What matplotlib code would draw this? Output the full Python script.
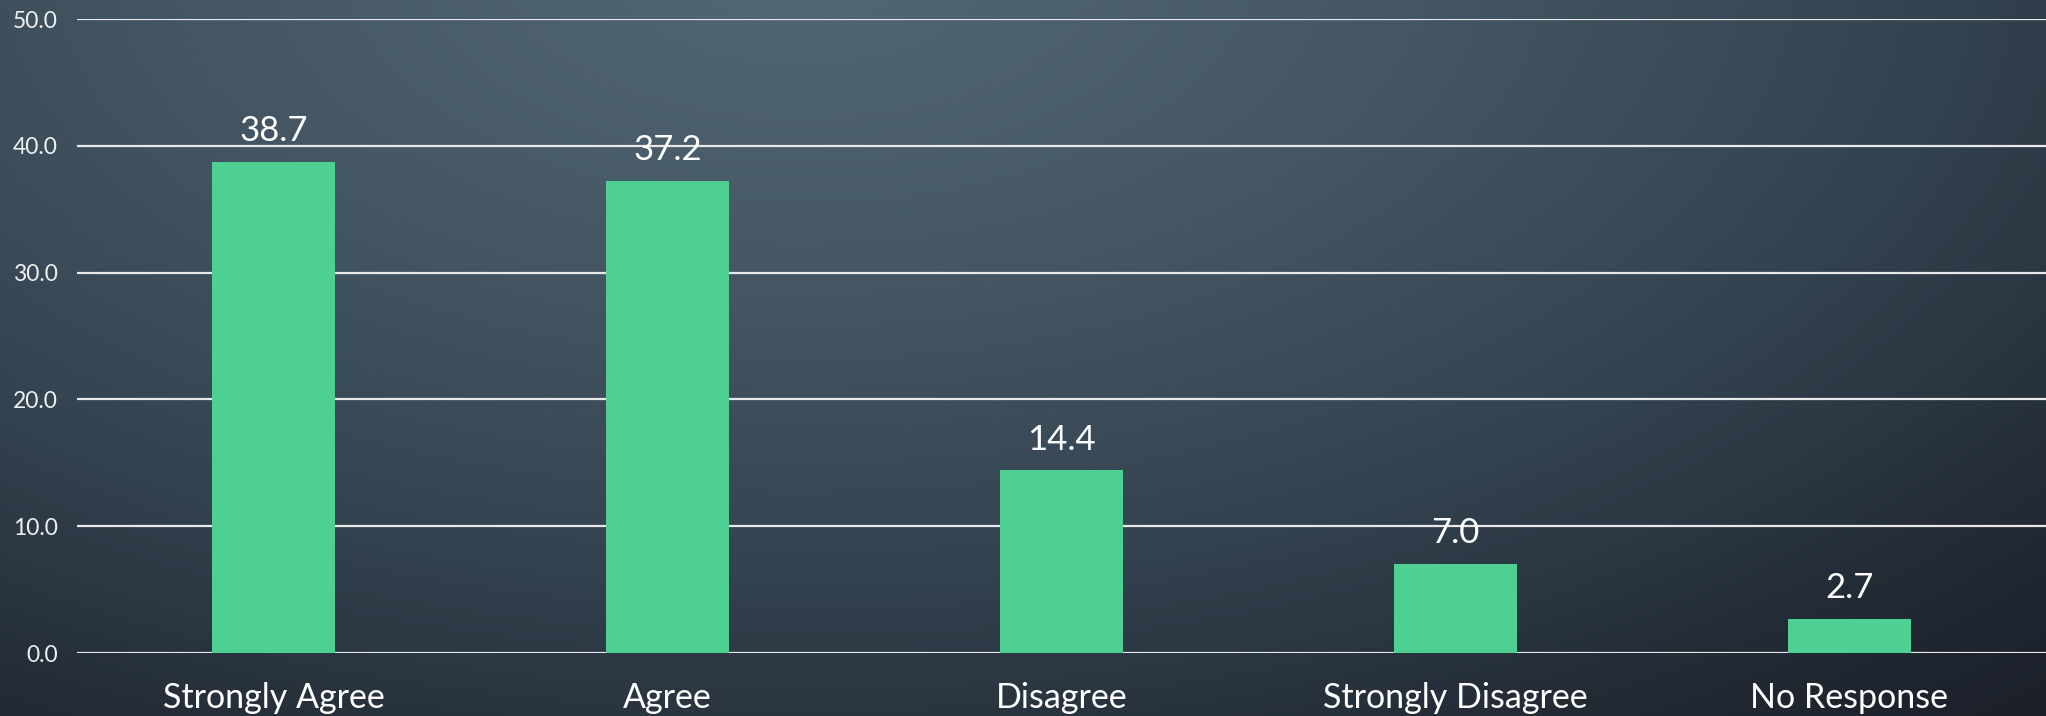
import numpy as np
import matplotlib
matplotlib.use("Agg")
import matplotlib.pyplot as plt
from matplotlib.colors import LinearSegmentedColormap

categories = ["Strongly Agree", "Agree", "Disagree", "Strongly Disagree", "No Response"]
values = [38.7, 37.2, 14.4, 7.0, 2.7]
yticks = [0, 10, 20, 30, 40, 50]

W, H = 2046, 716
fig = plt.figure(figsize=(W / 100, H / 100), dpi=100)

# Dark slate background with a soft glow near the top centre
bg = fig.add_axes([0, 0, 1, 1], zorder=-10)
yy, xx = np.mgrid[0:H, 0:W]
cx, cy = 800.0, -40.0
d = np.sqrt(((xx - cx) / 1500.0) ** 2 + ((yy - cy) / 800.0) ** 2)
cmap = LinearSegmentedColormap.from_list(
    "slate",
    [(0.0, "#536775"), (0.30, "#465866"), (0.62, "#33424f"),
     (0.85, "#232b35"), (1.0, "#1b2029")],
)
bg.imshow(np.clip(d / 1.25, 0, 1), cmap=cmap, vmin=0, vmax=1,
          aspect="auto", extent=[0, W, H, 0], interpolation="bilinear")
bg.set_axis_off()

font = "Lato"
ax = fig.add_axes([77 / W, (H - 653) / H, (W - 77) / W, 634 / H])
ax.patch.set_alpha(0)

x = np.arange(len(categories))
ax.bar(x, values, width=0.3125, color="#4dd091", zorder=3)

for xi, v in zip(x, values):
    ax.annotate(f"{v:.1f}", (xi, v), xytext=(0, 15), textcoords="offset points",
                ha="center", va="baseline", fontsize=25, color="white",
                family=font, zorder=5)

ax.set_xlim(-0.5, 4.5)
ax.set_ylim(0, 50)
ax.set_yticks(yticks)
ax.set_yticklabels([f"{t:.1f}" for t in yticks], fontsize=16.5, color="#f0f0f0",
                   family=font)
ax.set_xticks(x)
ax.set_xticklabels(categories, fontsize=24.5, color="white", family=font)
ax.tick_params(axis="y", length=0, pad=14)
ax.tick_params(axis="x", length=0, pad=21)
ax.grid(axis="y", color="#e8e8e8", linewidth=1.6, zorder=1)
ax.set_axisbelow(True)
for s in ax.spines.values():
    s.set_visible(False)

fig.savefig("out.png", dpi=100)
